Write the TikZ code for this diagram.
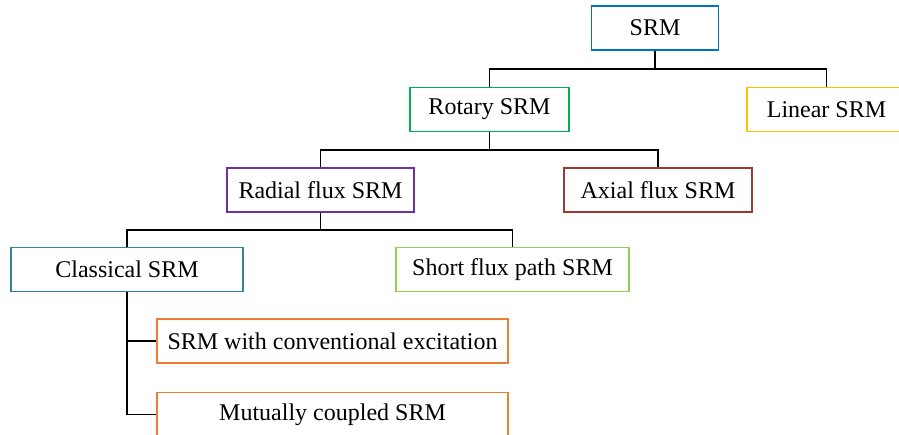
\documentclass[tikz,border=0pt]{standalone}
\usepackage{fontspec}
\setmainfont{Liberation Serif}
\begin{document}
\begin{tikzpicture}[x=1pt,y=-1pt,
  box/.style={draw, rectangle, line width=1.7pt, minimum height=44pt, inner sep=0pt,
    font=\fontsize{24}{28}\selectfont, fill=white},
  link/.style={draw=black, line width=1.8pt}]
\definecolor{cSRM}{HTML}{0070C0}
\definecolor{cRot}{HTML}{00B050}
\definecolor{cLin}{HTML}{FFC000}
\definecolor{cRad}{HTML}{7030A0}
\definecolor{cAxi}{HTML}{9E3A31}
\definecolor{cCla}{HTML}{31849B}
\definecolor{cSho}{HTML}{92D050}
\definecolor{cExc}{HTML}{ED7D31}

\useasboundingbox (0,0) rectangle (899,434);
\clip (0,0) rectangle (899,434);

% level 0
\node[box, draw=cSRM, minimum width=127pt] (srm) at (655,28) {SRM};
% level 1
\node[box, draw=cRot, minimum width=159pt] (rot) at (489.5,109.5) {Rotary SRM};
\node[box, draw=cLin, minimum width=159pt] (lin) at (826.5,109.5) {Linear SRM};
% level 2
\node[box, draw=cRad, minimum width=187pt] (rad) at (320.5,190) {Radial flux SRM};
\node[box, draw=cAxi, minimum width=188pt] (axi) at (658,190) {Axial flux SRM};
% level 3
\node[box, draw=cCla, minimum width=232pt] (cla) at (127,269.5) {Classical SRM};
\node[box, draw=cSho, minimum width=233pt] (sho) at (512.5,269.5) {Short flux path SRM};
% excitation variants
\node[box, draw=cExc, minimum width=351pt] (con) at (332.5,341) {SRM with conventional excitation};
\node[box, draw=cExc, minimum width=351pt] (mut) at (332.5,414.5) {Mutually coupled SRM};

% tree connectors
\draw[link] (srm.south) -- ++(0,18) coordinate (j1);
\draw[link] (rot.north) |- (j1) -| (lin.north);

\draw[link] (rot.south) -- ++(0,18) coordinate (j2);
\draw[link] (rad.north) |- (j2) -| (axi.north);

\draw[link] (rad.south) -- ++(0,17.5) coordinate (j3);
\draw[link] (cla.north) |- (j3) -| (sho.north);

\draw[link] (cla.south) |- (con.west);
\draw[link] (cla.south) |- (mut.west);
\end{tikzpicture}
\end{document}
